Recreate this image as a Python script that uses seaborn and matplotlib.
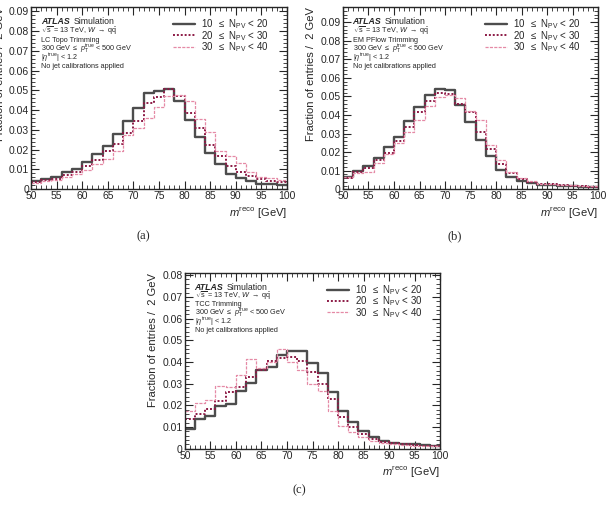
import numpy as np
import pandas as pd
import matplotlib
matplotlib.use("Agg")
import matplotlib.pyplot as plt
import seaborn as sns

# bin edges (2 GeV bins, 50-100 GeV)
binEdges = list(range(50, 102, 2))
binCenters = [e + 1 for e in binEdges[:-1]]

seriesLabels = [r"10  $\leq$ N$_{\rm PV}$ < 20",
                r"20  $\leq$ N$_{\rm PV}$ < 30",
                r"30  $\leq$ N$_{\rm PV}$ < 40"]

# (a) LC Topo Trimming
lcLow = [0.0042, 0.0050, 0.0060, 0.0086, 0.0100, 0.0140, 0.0180, 0.0220, 0.0280, 0.0347,
         0.0410, 0.0487, 0.0498, 0.0505, 0.0444, 0.0352, 0.0263, 0.0183, 0.0128, 0.0077,
         0.0057, 0.0044, 0.0027, 0.0025, 0.0022]
lcMid = [0.0035, 0.0045, 0.0052, 0.0070, 0.0088, 0.0118, 0.0150, 0.0193, 0.0230, 0.0285,
         0.0345, 0.0435, 0.0468, 0.0508, 0.0470, 0.0385, 0.0310, 0.0225, 0.0167, 0.0118,
         0.0085, 0.0065, 0.0050, 0.0040, 0.0035]
lcHigh = [0.0030, 0.0040, 0.0045, 0.0060, 0.0078, 0.0095, 0.0130, 0.0155, 0.0195, 0.0275,
          0.0310, 0.0360, 0.0415, 0.0470, 0.0475, 0.0445, 0.0355, 0.0290, 0.0195, 0.0170,
          0.0135, 0.0085, 0.0060, 0.0055, 0.0045]

# (b) EM PFlow Trimming
pfLow = [0.0065, 0.0096, 0.0126, 0.0170, 0.0226, 0.0282, 0.0365, 0.0442, 0.0509, 0.0542,
         0.0534, 0.0453, 0.0361, 0.0267, 0.0180, 0.0103, 0.0067, 0.0042, 0.0031, 0.0025,
         0.0023, 0.0020, 0.0018, 0.0014, 0.0013]
pfMid = [0.0062, 0.0092, 0.0115, 0.0155, 0.0195, 0.0260, 0.0335, 0.0415, 0.0475, 0.0520,
         0.0515, 0.0460, 0.0415, 0.0310, 0.0215, 0.0135, 0.0085, 0.0055, 0.0040, 0.0030,
         0.0027, 0.0023, 0.0020, 0.0016, 0.0014]
pfHigh = [0.0065, 0.0085, 0.0095, 0.0140, 0.0190, 0.0250, 0.0310, 0.0375, 0.0450, 0.0495,
          0.0505, 0.0490, 0.0420, 0.0375, 0.0238, 0.0155, 0.0095, 0.0062, 0.0045, 0.0030,
          0.0027, 0.0025, 0.0022, 0.0018, 0.0015]

# (c) TCC Trimming
tccLow = [0.0093, 0.0135, 0.0150, 0.0196, 0.0208, 0.0265, 0.0303, 0.0361, 0.0379, 0.0433,
          0.0450, 0.0450, 0.0394, 0.0349, 0.0263, 0.0174, 0.0122, 0.0083, 0.0055, 0.0038,
          0.0028, 0.0023, 0.0020, 0.0017, 0.0015]
tccMid = [0.0138, 0.0158, 0.0185, 0.0222, 0.0262, 0.0285, 0.0330, 0.0362, 0.0405, 0.0420,
          0.0425, 0.0405, 0.0355, 0.0300, 0.0230, 0.0145, 0.0098, 0.0068, 0.0045, 0.0032,
          0.0025, 0.0020, 0.0018, 0.0015, 0.0013]
tccHigh = [0.0175, 0.0210, 0.0225, 0.0290, 0.0285, 0.0340, 0.0415, 0.0370, 0.0400, 0.0458,
           0.0400, 0.0365, 0.0300, 0.0265, 0.0175, 0.0105, 0.0077, 0.0052, 0.0035, 0.0025,
           0.0020, 0.0017, 0.0015, 0.0013, 0.0012]

sns.set_theme(style="ticks")
plt.rcParams['font.family'] = ['Liberation Sans', 'DejaVu Sans']
plt.rcParams['mathtext.fontset'] = 'custom'
plt.rcParams['mathtext.rm'] = 'Liberation Sans'
plt.rcParams['mathtext.it'] = 'Liberation Sans:italic'
plt.rcParams['mathtext.bf'] = 'Liberation Sans:bold'

lineStyles = [
    dict(color='#4d4d4d', linestyle='-', linewidth=1.7),
    dict(color='#8c1a45', linestyle=(0, (1, 1)), linewidth=1.4),
    dict(color='#e58aa6', linestyle=(0, (2.5, 1)), linewidth=0.9),
]


def drawPanel(ax, seriesList, algoName, ymax):
    for vals, lab, style in zip(seriesList, seriesLabels, lineStyles):
        df = pd.DataFrame({'mreco': binCenters, 'frac': vals})
        sns.histplot(data=df, x='mreco', weights='frac', bins=binEdges,
                     element='step', fill=False, ax=ax, label=lab, **style)
    ax.set_xlim(50, 100)
    ax.set_ylim(0, ymax)
    ax.set_xticks(np.arange(50, 101, 5))
    ax.set_xticks(np.arange(50, 101, 1), minor=True)
    majors = np.arange(0, ymax, 0.01)
    ax.set_yticks(majors)
    ax.set_yticks(np.arange(0, ymax, 0.002), minor=True)
    ax.set_yticklabels(['0'] + ['%.2f' % v for v in majors[1:]])
    ax.tick_params(which='both', direction='in', top=True, right=True,
                   labelsize=7.5, pad=1.5)
    ax.tick_params(which='major', length=6, width=0.8)
    ax.tick_params(which='minor', length=3, width=0.6)
    for sp in ax.spines.values():
        sp.set_linewidth(1.0)
    ax.set_xlabel(r'$m^{\rm reco}$ [GeV]', fontsize=8, loc='right', labelpad=3)
    ax.set_ylabel('Fraction of entries /  2 GeV', fontsize=8, loc='top', labelpad=3)

    textLines = [
        r'$\sqrt{\rm s}$ = 13 TeV, $W$ $\rightarrow$ q$\bar{\rm q}$',
        algoName,
        r'300 GeV $\leq$ $p_{\rm T}^{\rm true}$ < 500 GeV',
        r'|$\eta^{\rm true}$| < 1.2',
        'No jet calibrations applied',
    ]
    ax.text(0.038, 0.92, 'ATLAS', transform=ax.transAxes, fontsize=6.3,
            fontweight='bold', fontstyle='italic', va='center')
    ax.text(0.165, 0.92, 'Simulation', transform=ax.transAxes, fontsize=6.3,
            va='center')
    yPos = [0.868, 0.819, 0.771, 0.72, 0.673]
    for t, yy in zip(textLines, yPos):
        ax.text(0.038, yy, t, transform=ax.transAxes, fontsize=5.2, va='center')

    ax.legend(loc='upper left', bbox_to_anchor=(0.54, 0.965), frameon=False,
              fontsize=7, handlelength=2.3, handletextpad=0.6,
              labelspacing=-0.25, borderaxespad=0)


fig = plt.figure(figsize=(6.08, 5.17), dpi=100)
axA = fig.add_axes([0.051, 0.634, 0.421, 0.352])
axB = fig.add_axes([0.564, 0.634, 0.420, 0.352])
axC = fig.add_axes([0.304, 0.132, 0.420, 0.340])

drawPanel(axA, [lcLow, lcMid, lcHigh], 'LC Topo Trimming', 0.092)
drawPanel(axB, [pfLow, pfMid, pfHigh], 'EM PFlow Trimming', 0.098)
drawPanel(axC, [tccLow, tccMid, tccHigh], 'TCC Trimming', 0.081)

fig.text(0.236, 1 - 236 / 517, '(a)', fontsize=9, family='Liberation Serif',
         ha='center', va='center')
fig.text(0.748, 1 - 236 / 517, '(b)', fontsize=9, family='Liberation Serif',
         ha='center', va='center')
fig.text(0.492, 1 - 490 / 517, '(c)', fontsize=9, family='Liberation Serif',
         ha='center', va='center')

fig.savefig('out.png', dpi=100)
